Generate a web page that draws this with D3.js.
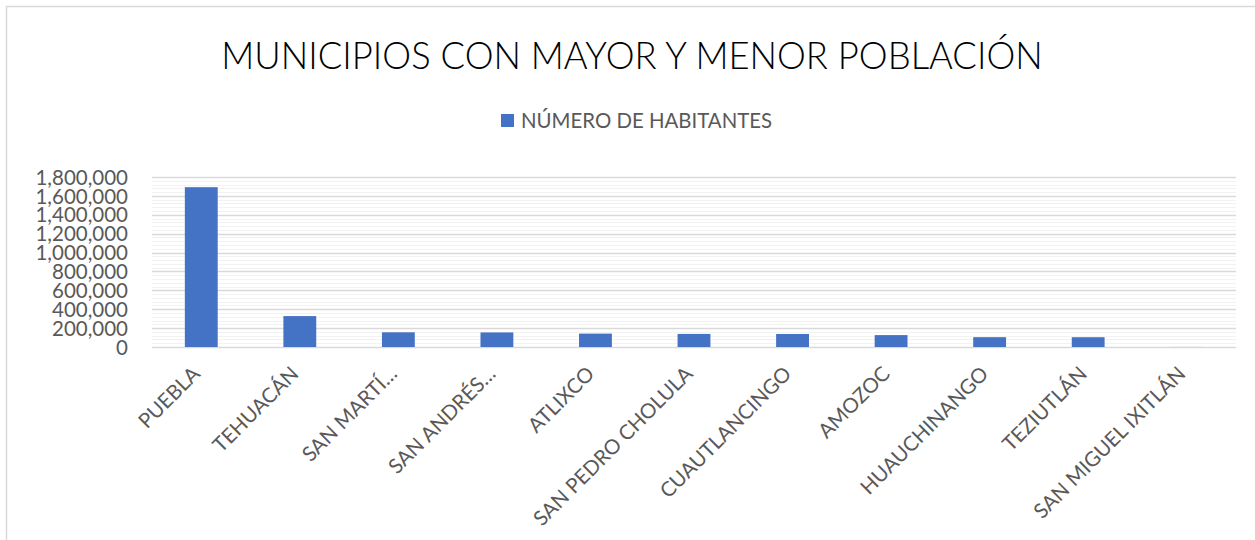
<!DOCTYPE html>
<html>
<head>
<meta charset="utf-8">
<script src="https://cdn.jsdelivr.net/npm/d3@7"></script>
<style>
  body { margin: 0; background: #fff; }
  text { font-family: Lato, "Open Sans", sans-serif; }
</style>
</head>
<body>
<div id="chart"></div>
<script>
// data
const municipios = ["PUEBLA", "TEHUACÁN", "SAN MARTÍ…", "SAN ANDRÉS…", "ATLIXCO",
  "SAN PEDRO CHOLULA", "CUAUTLANCINGO", "AMOZOC", "HUAUCHINANGO", "TEZIUTLÁN", "SAN MIGUEL IXITLÁN"];
const habitantes = [1692181, 327312, 155738, 154448, 141793, 138433, 137861, 125952, 103946, 103583, 566];
const yTicks = [0, 200000, 400000, 600000, 800000, 1000000, 1200000, 1400000, 1600000, 1800000];

const width = 1255, height = 540;
const margin = { left: 152, right: 19, top: 177, bottom: 193 };

const svg = d3.select("#chart").append("svg")
  .attr("width", width)
  .attr("height", height);

// chart frame
svg.append("rect")
  .attr("x", 6.5).attr("y", 6.5)
  .attr("width", 1260).attr("height", 600)
  .style("fill", "none")
  .style("stroke", "#d9d9d9")
  .style("stroke-width", 1.5);

const x = d3.scaleBand()
  .domain(municipios)
  .range([margin.left, width - margin.right])
  .paddingInner(2 / 3)
  .paddingOuter(1 / 3);

const y = d3.scaleLinear()
  .domain([0, 1800000])
  .range([height - margin.bottom, margin.top]);

// minor gridlines
const minor = d3.range(0, 1800001, 40000).filter(v => v % 200000 !== 0);
svg.append("g")
  .selectAll("line")
  .data(minor)
  .enter().append("line")
  .attr("x1", margin.left).attr("x2", width - margin.right)
  .attr("y1", d => Math.round(y(d)) + 0.5)
  .attr("y2", d => Math.round(y(d)) + 0.5)
  .style("stroke", "#f2f2f2")
  .style("stroke-width", 1);

// major gridlines
svg.append("g")
  .selectAll("line")
  .data(yTicks)
  .enter().append("line")
  .attr("x1", margin.left).attr("x2", width - margin.right)
  .attr("y1", d => Math.round(y(d)) + 0.5)
  .attr("y2", d => Math.round(y(d)) + 0.5)
  .style("stroke", "#d9d9d9")
  .style("stroke-width", 1.3);

// bars
svg.append("g")
  .selectAll("rect")
  .data(municipios)
  .enter().append("rect")
  .attr("x", d => x(d))
  .attr("y", (d, i) => y(habitantes[i]))
  .attr("width", x.bandwidth())
  .attr("height", (d, i) => y(0) - y(habitantes[i]))
  .style("fill", "#4472c4");

// y axis
const yAxis = svg.append("g")
  .attr("transform", "translate(" + (margin.left - 24) + ",0)")
  .call(d3.axisLeft(y).tickValues(yTicks).tickSize(0).tickPadding(0).tickFormat(d3.format(",")));
yAxis.select(".domain").remove();
yAxis.selectAll("text")
  .attr("dy", "0.35em")
  .style("font-size", "20.5px")
  .style("font-family", "Lato, sans-serif")
  .style("fill", "#595959");

// x axis
const xAxis = svg.append("g")
  .attr("transform", "translate(0," + (height - margin.bottom) + ")")
  .call(d3.axisBottom(x).tickSize(0).tickPadding(0));
xAxis.select(".domain").remove();
xAxis.selectAll("text")
  .attr("text-anchor", "end")
  .attr("transform", "translate(-5,23) rotate(-45)")
  .attr("dy", "0.35em")
  .attr("y", 0)
  .style("font-size", "20.5px")
  .style("font-family", "Lato, sans-serif")
  .style("fill", "#595959");

// title
svg.append("text")
  .attr("x", 632).attr("y", 69)
  .attr("text-anchor", "middle")
  .style("font-size", "36.4px")
  .style("font-weight", 300)
  .style("fill", "#000")
  .text("MUNICIPIOS CON MAYOR Y MENOR POBLACIÓN");

// legend
svg.append("rect")
  .attr("x", 501).attr("y", 114)
  .attr("width", 13).attr("height", 13)
  .style("fill", "#4472c4");
svg.append("text")
  .attr("x", 521).attr("y", 128)
  .style("font-size", "20.4px")
  .style("fill", "#595959")
  .text("NÚMERO DE HABITANTES");
</script>
</body>
</html>
